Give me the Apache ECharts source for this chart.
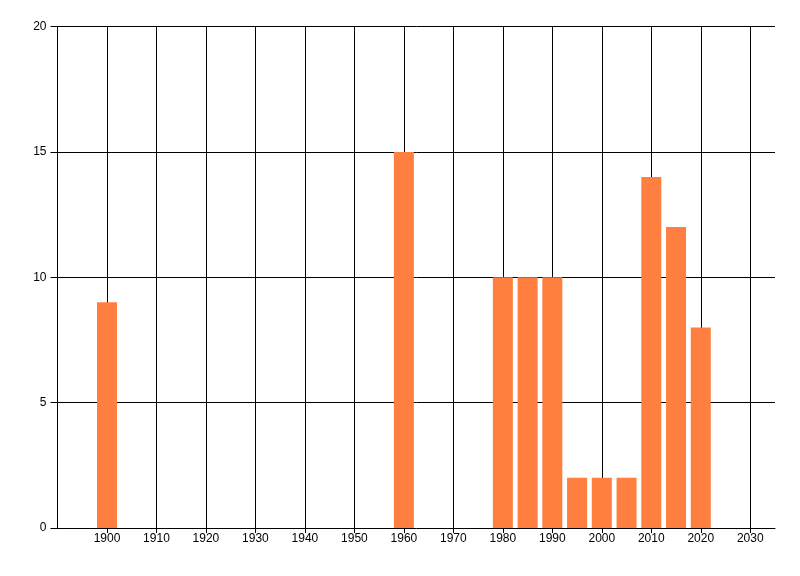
<!DOCTYPE html>
<html>
<head>
<meta charset="utf-8">
<script src="https://cdn.jsdelivr.net/npm/echarts@6/dist/echarts.min.js"></script>
<style>html,body{margin:0;padding:0;background:#fff;}#c{width:800px;height:576px;}</style>
</head>
<body>
<div id="c"></div>
<script>
var years = [1900, 1960, 1980, 1985, 1990, 1995, 2000, 2005, 2010, 2015, 2020];
var counts = [9, 15, 10, 10, 10, 2, 2, 2, 14, 12, 8];
var xTickLabels = [1900, 1910, 1920, 1930, 1940, 1950, 1960, 1970, 1980, 1990, 2000, 2010, 2020, 2030];
var yTickLabels = [0, 5, 10, 15, 20];

var chart = echarts.init(document.getElementById('c'), null, {renderer: 'canvas'});
var font = 'Liberation Sans, Arial, sans-serif';
chart.setOption({
  animation: false,
  backgroundColor: '#fff',
  grid: {left: 57.5, right: 25, top: 26.5, bottom: 48, containLabel: false},
  xAxis: {
    type: 'value', min: 1890, max: 2035, interval: 10,
    axisLine: {show: true, lineStyle: {color: '#000', width: 1}},
    axisTick: {show: true, length: 5, lineStyle: {color: '#000'}, customValues: xTickLabels},
    axisLabel: {color: '#000', fontFamily: font, fontSize: 12, margin: 5, customValues: xTickLabels,
      formatter: function (v) { return String(v); }},
    splitLine: {show: true, lineStyle: {color: '#000', width: 1}}
  },
  yAxis: {
    type: 'value', min: 0, max: 20, interval: 5,
    axisLine: {show: true, lineStyle: {color: '#000', width: 1}},
    axisTick: {show: true, length: 7, lineStyle: {color: '#000'}},
    axisLabel: {color: '#000', fontFamily: font, fontSize: 12, margin: 11,
      customValues: yTickLabels},
    splitLine: {show: true, showMinLine: false, lineStyle: {color: '#000', width: 1}}
  },
  series: [{
    type: 'bar',
    data: years.map(function (y, i) { return [y, counts[i]]; }),
    barWidth: 20,
    itemStyle: {color: '#FF7F40'}
  }]
});
</script>
</body>
</html>
